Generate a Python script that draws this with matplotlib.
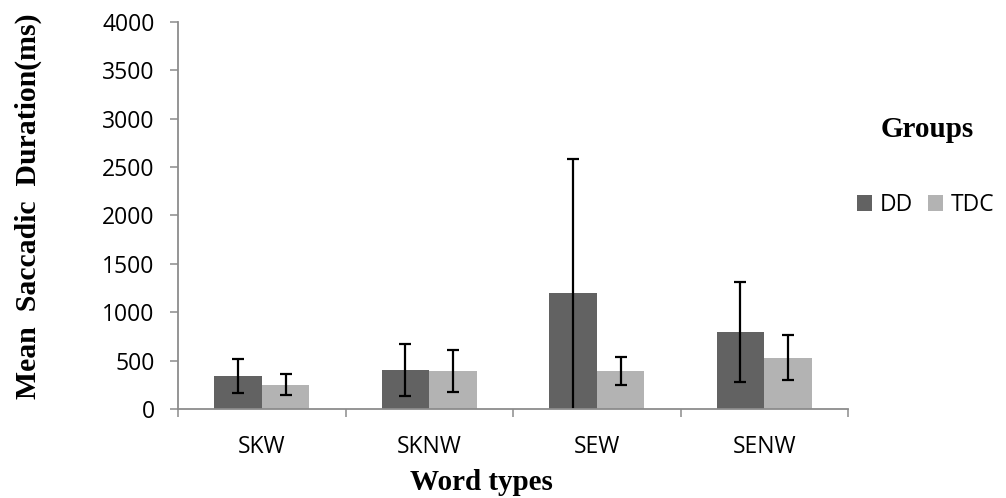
import numpy as np
import matplotlib
matplotlib.use("Agg")
import matplotlib.pyplot as plt
from matplotlib.patches import Patch

# Data
word_types = ["SKW", "SKNW", "SEW", "SENW"]
groups = ["DD", "TDC"]
dd_mean = [340, 400, 1195, 795]
dd_err = [172, 267, 1390, 520]
tdc_mean = [252, 388, 393, 532]
tdc_err = [107, 217, 145, 237]
y_ticks = [0, 500, 1000, 1500, 2000, 2500, 3000, 3500, 4000]

dd_color = "#626262"
tdc_color = "#b3b3b3"
axis_color = "#8c8c8c"
sans = ["Open Sans", "DejaVu Sans"]
serif = ["Liberation Serif", "DejaVu Serif"]

W, H = 1006, 498
fig = plt.figure(figsize=(W / 100, H / 100), dpi=100)
ax = fig.add_axes([178 / W, 1 - 409 / H, (848 - 178) / W, (409 - 22) / H])

x = np.arange(len(word_types))
w = 0.284
err_kw = dict(ecolor="black", elinewidth=1.6, capsize=4.5, capthick=1.6)
ax.bar(x - w / 2, dd_mean, w, color=dd_color, yerr=dd_err, error_kw=err_kw, zorder=2)
ax.bar(x + w / 2, tdc_mean, w, color=tdc_color, yerr=tdc_err, error_kw=err_kw, zorder=2)

ax.set_xlim(-0.5, len(word_types) - 0.5)
ax.set_ylim(0, 4000)
ax.set_yticks(y_ticks)
ax.set_yticklabels([str(v) for v in y_ticks], fontfamily=sans, fontsize=16.5)
ax.set_xticks(x)
ax.set_xticklabels(word_types, fontfamily=sans, fontsize=16.5)
ax.set_xticks(np.arange(-0.5, len(word_types)), minor=True)

for side in ("top", "right"):
    ax.spines[side].set_visible(False)
for side in ("left", "bottom"):
    ax.spines[side].set_color(axis_color)
    ax.spines[side].set_linewidth(1.3)

ax.tick_params(axis="y", which="major", direction="out", length=5.8, width=1.1,
               color=axis_color, pad=11)
ax.tick_params(axis="x", which="major", length=0, pad=19)
ax.tick_params(axis="x", which="minor", direction="out", length=5.8, width=1.1,
               color=axis_color)

ax.set_ylabel("Mean  Saccadic  Duration(ms)", fontfamily=serif, fontweight="bold",
              fontsize=21.4)
ax.yaxis.label.set_va("center")
ax.yaxis.set_label_coords((28 - 178) / 670, (409 - 206.5) / 387)

ax.set_xlabel("Word types", fontfamily=serif, fontweight="bold", fontsize=21)
ax.xaxis.label.set_va("baseline")
ax.xaxis.set_label_coords((481 - 178) / 670, (409 - 490) / 387)

fig.text(927.5 / W, 1 - 136.7 / H, "Groups", fontfamily=serif, fontweight="bold",
         fontsize=21, ha="center", va="baseline")

handles = [Patch(facecolor=dd_color), Patch(facecolor=tdc_color)]
fig.legend(handles, groups, loc="center left", bbox_to_anchor=(857 / W, 1 - 205 / H),
           ncol=2, frameon=False, borderpad=0, borderaxespad=0,
           handlelength=0.65, handleheight=0.65, handletextpad=0.35,
           columnspacing=0.65, prop={"family": sans, "size": 16.5})

fig.savefig("out.png", dpi=100)
